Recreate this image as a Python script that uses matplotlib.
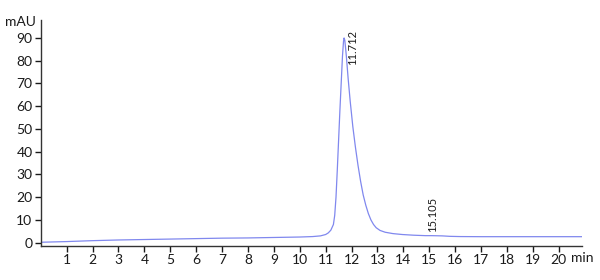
import numpy as np
import matplotlib.pyplot as plt

# retention time (min) and absorbance (mAU)
time_min = [0, 1, 2, 3, 4, 5, 6, 7, 8, 9, 10, 10.5, 10.8, 11.0, 11.1, 11.2,
            11.3, 11.35, 11.4, 11.45, 11.5, 11.55, 11.6, 11.65, 11.69, 11.712,
            11.74, 11.8, 11.87, 11.95, 12.05, 12.15, 12.25, 12.35, 12.45,
            12.55, 12.65, 12.75, 12.85, 12.95, 13.1, 13.3, 13.6, 13.96, 14.4,
            14.86, 15.105, 15.5, 15.8, 16.2, 17, 18, 19, 20, 20.9]
signal_mau = [0.2, 0.5, 0.9, 1.2, 1.4, 1.6, 1.8, 2.0, 2.1, 2.3, 2.5, 2.7, 3.0,
              3.6, 4.3, 5.5, 8, 12, 20, 32, 45, 58, 70, 82, 88.5, 90,
              89, 82, 72, 62, 51, 42, 34, 27, 21,
              16.5, 12.8, 10, 8.0, 6.6, 5.4, 4.6, 4.0, 3.6, 3.3,
              3.1, 3.1, 3.0, 2.8, 2.7, 2.65, 2.65, 2.65, 2.65, 2.65]

peak_times = [11.712, 15.105]
peak_labels = ["11.712", "15.105"]

x_ticks = list(range(1, 21))
y_ticks = list(range(0, 100, 10))

plt.rcParams.update({"font.family": ["Lato", "DejaVu Sans"], "font.size": 10})

fig = plt.figure(figsize=(6, 2.8), dpi=100)
ax = fig.add_axes([0.068, 0.1214, 0.902, 0.8072])

ax.plot(time_min, signal_mau, color="#8088ee", lw=0.9)

# peak annotations
ax.text(12.04, 93.5, peak_labels[0], rotation=90, ha="center", va="top",
        fontsize=8, color="#1a1a1a")
ax.text(15.12, 4.8, peak_labels[1], rotation=90, ha="center", va="bottom",
        fontsize=8, color="#1a1a1a")

ax.set_xlim(0, 20.9)
ax.set_ylim(-1.45, 97.9)
ax.set_xticks(x_ticks)
ax.set_yticks(y_ticks)
ax.tick_params(colors="#1a1a1a", length=4, width=1, labelsize=10, pad=2)

for side in ["top", "right"]:
    ax.spines[side].set_visible(False)
for side in ["left", "bottom"]:
    ax.spines[side].set_color("#333333")
    ax.spines[side].set_linewidth(1)

fig.text(0.008, 0.921, "mAU", ha="left", va="center", fontsize=10, color="#1a1a1a")
fig.text(0.951, 0.077, "min", ha="left", va="center", fontsize=10, color="#1a1a1a")

fig.savefig("out.png", dpi=100)
